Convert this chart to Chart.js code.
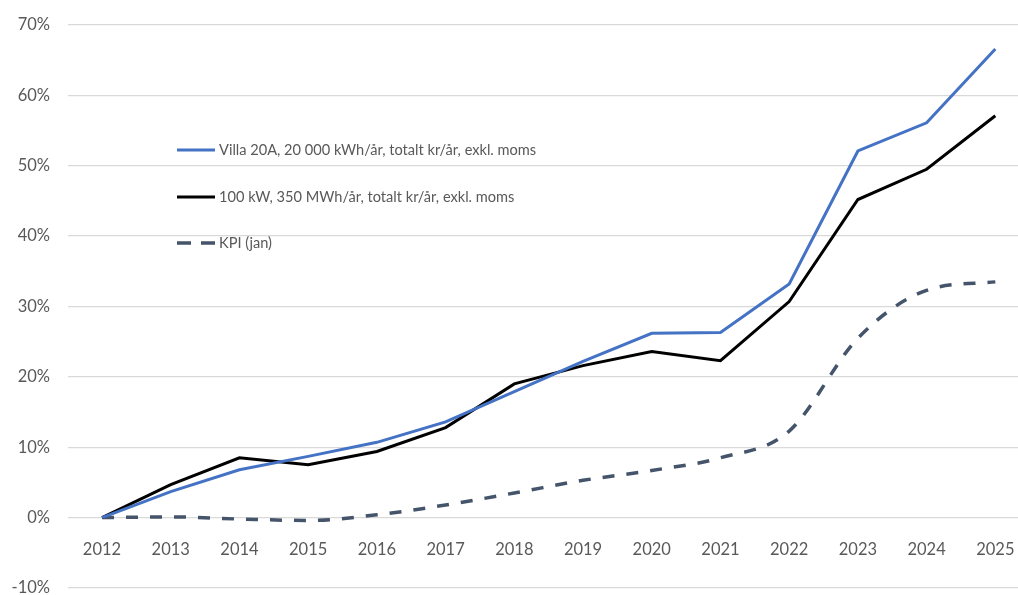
<!DOCTYPE html>
<html>
<head>
<meta charset="utf-8">
<script src="https://cdn.jsdelivr.net/npm/chart.js@4"></script>
<style>
  html, body { margin: 0; padding: 0; background: #fff; }
  #wrap { width: 1018px; height: 595px; }
</style>
</head>
<body>
<div id="wrap"><canvas id="myChart"></canvas></div>
<script>
const years = [2012, 2013, 2014, 2015, 2016, 2017, 2018, 2019, 2020, 2021, 2022, 2023, 2024, 2025];
const villa = [0, 3.7, 6.8, 8.7, 10.7, 13.6, 17.9, 22.2, 26.2, 26.3, 33.2, 52.1, 56.1, 66.6];
const effekt = [0, 4.7, 8.5, 7.5, 9.4, 12.8, 19.0, 21.6, 23.6, 22.3, 30.7, 45.2, 49.5, 57.1];
const kpi = [0, 0.1, -0.2, -0.4, 0.4, 1.8, 3.5, 5.3, 6.7, 8.5, 12.3, 25.5, 32.3, 33.5];
const seriesNames = [
    'Villa 20A, 20 000 kWh/år, totalt kr/år, exkl. moms',
    '100 kW, 350 MWh/år, totalt kr/år, exkl. moms',
    'KPI (jan)'
];
const yTicks = [-10, 0, 10, 20, 30, 40, 50, 60, 70];

const textColor = '#595959';
const gridColor = '#d9d9d9';

function points(values) {
    return values.map((v, i) => ({ x: years[i], y: v }));
}

// legend drawn inside the plot area, like the original
const innerLegend = {
    id: 'innerLegend',
    afterDatasetsDraw(chart) {
        const ctx = chart.ctx;
        const a = chart.chartArea;
        const rows = [150, 197, 243];
        ctx.save();
        chart.data.datasets.forEach((ds, i) => {
            const y = rows[i];
            const x0 = a.left + 109;
            ctx.strokeStyle = ds.borderColor;
            ctx.lineWidth = ds.borderWidth;
            ctx.setLineDash(ds.borderDash ? [14, 10] : []);
            ctx.lineCap = 'butt';
            ctx.beginPath();
            ctx.moveTo(x0, y);
            ctx.lineTo(x0 + 38, y);
            ctx.stroke();
            ctx.setLineDash([]);
            ctx.fillStyle = textColor;
            ctx.font = '14.6px Lato';
            ctx.textBaseline = 'middle';
            ctx.textAlign = 'left';
            ctx.fillText(ds.label, x0 + 42, y);
        });
        ctx.restore();
    }
};

const ctx = document.getElementById('myChart').getContext('2d');

const chart = new Chart(ctx, {
    type: 'line',
    data: {
        datasets: [
            {
                label: seriesNames[0],
                data: points(villa),
                borderColor: '#4472c4',
                borderWidth: 3,
                pointRadius: 0,
                tension: 0,
            },
            {
                label: seriesNames[1],
                data: points(effekt),
                borderColor: '#000000',
                borderWidth: 3,
                pointRadius: 0,
                tension: 0,
            },
            {
                label: seriesNames[2],
                data: points(kpi),
                borderColor: '#44546a',
                borderWidth: 3.5,
                borderDash: [12, 12],
                pointRadius: 0,
                tension: 0.4,
                cubicInterpolationMode: 'monotone',
            },
        ],
    },
    options: {
        responsive: true,
        maintainAspectRatio: false,
        animation: false,
        layout: { padding: { top: 25, right: 0, bottom: 7, left: 0 } },
        plugins: {
            legend: { display: false },
            tooltip: { enabled: false },
        },
        scales: {
            x: {
                type: 'linear',
                position: { y: 0 },
                min: 2011.505,
                max: 2025.33,
                afterBuildTicks: (axis) => {
                    axis.ticks = years.map((v) => ({ value: v }));
                },
                afterFit: (axis) => {
                    axis.height = 0;
                    axis.paddingLeft = 0;
                    axis.paddingRight = 0;
                },
                grid: { display: false, drawTicks: false },
                border: { display: false },
                ticks: {
                    color: textColor,
                    font: { family: 'Lato', size: 16.5 },
                    padding: 22,
                    maxRotation: 0,
                    autoSkip: false,
                    callback: (v) => String(v),
                },
            },
            y: {
                min: -10,
                max: 70,
                afterBuildTicks: (axis) => {
                    axis.ticks = yTicks.map((v) => ({ value: v }));
                },
                afterFit: (axis) => {
                    axis.width = 68;
                    axis.paddingTop = 0;
                    axis.paddingBottom = 0;
                },
                grid: { color: gridColor, lineWidth: 1.3, drawTicks: false },
                border: { display: false },
                ticks: {
                    color: textColor,
                    font: { family: 'Lato', size: 16.5 },
                    padding: 18,
                    callback: (v) => v + '%',
                },
            },
        },
    },
    plugins: [innerLegend],
});
</script>
</body>
</html>
